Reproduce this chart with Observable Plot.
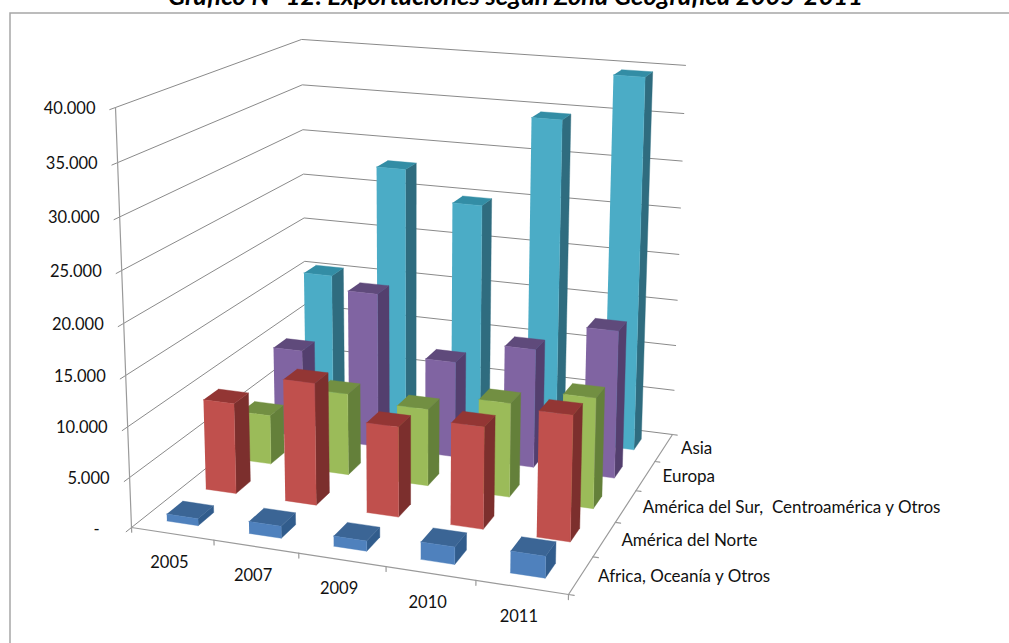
<!DOCTYPE html>
<html>
<head>
<meta charset="utf-8">
<style>html,body{margin:0;padding:0;background:#fff;overflow:hidden}svg{display:block}</style>
<script src="https://cdn.jsdelivr.net/npm/d3@7"></script>
<script src="https://cdn.jsdelivr.net/npm/@observablehq/plot@0.6"></script>
</head>
<body>
<div id="chart"></div>
<script>
const chartTitle = "Gráfico N° 12: Exportaciones según Zona Geográfica 2005-2011";
const years = ["2005", "2007", "2009", "2010", "2011"];
const zones = ["Africa, Oceanía y Otros", "América del Norte", "América del Sur,  Centroamérica y Otros", "Europa", "Asia"];
const africa  = [700, 1200, 1000, 1700, 2100];
const norte   = [9300, 12400, 9100, 10200, 12450];
const sur     = [5200, 8550, 8000, 9700, 11300];
const europa  = [9500, 16600, 10250, 12600, 15500];
const asia    = [15450, 27950, 24800, 34550, 39550];
const series = [africa, norte, sur, europa, asia];
const valueTicks = [0, 5000, 10000, 15000, 20000, 25000, 30000, 35000, 40000];
const valueMax = 40000;

const faceColors = [
  {front: "#4f81bd", side: "#315c8c", top: "#3b6595"},
  {front: "#c0504d", side: "#7c2f2d", top: "#933634"},
  {front: "#9bbb59", side: "#64803a", top: "#728f42"},
  {front: "#8064a2", side: "#533f6e", top: "#5f4a7b"},
  {front: "#4bacc6", side: "#2f6c7f", top: "#338da5"}
];

// Camera of the 3D box: the image of its corners on the page
const W = 1009, H = 643;
const corners = {p0: [131, 527], p1: [568, 594], p2: [672, 434], p3: [306, 388], up0: [115, 107], up2: [685, 61]};
const camera = (() => {
  const {p0, p1, p2, p3, up0, up2} = corners;
  const dx1 = p1[0] - p2[0], dx2 = p3[0] - p2[0], sx = p0[0] - p1[0] + p2[0] - p3[0];
  const dy1 = p1[1] - p2[1], dy2 = p3[1] - p2[1], sy = p0[1] - p1[1] + p2[1] - p3[1];
  const det = dx1 * dy2 - dx2 * dy1;
  const g = (sx * dy2 - dx2 * sy) / det, h = (dx1 * sy - sx * dy1) / det;
  const a = p1[0] - p0[0] + g * p1[0], b = p3[0] - p0[0] + h * p3[0], c = p0[0];
  const d = p1[1] - p0[1] + g * p1[1], e = p3[1] - p0[1] + h * p3[1], f = p0[1];
  const S = g + h + 1;
  const cw = (a + b + up0[0] - up2[0] * S) / (up2[0] - up0[0]);
  const cu = up0[0] * (1 + cw) - c, cv = up0[1] * (1 + cw) - f;
  return {a, b, c, d, e, f, g, h, cu, cv, cw};
})();
function project(x, y, z) {
  const m = camera;
  const w = m.g * x + m.h * y + m.cw * z + 1;
  return [(m.a * x + m.b * y + m.cu * z + m.c) / w, (m.d * x + m.e * y + m.cv * z + m.f) / w];
}
const zOf = v => v / valueMax;
const nx = years.length, ny = zones.length;
const barWidth = 0.383, barDepth = 0.4, barShift = -0.005;

function poly(id, fill, pts) {
  return pts.map(([x, y, z]) => {
    const [u, v] = project(x, y, z);
    return {id, fill, u, v};
  });
}
// Faces of the bars, far rows first
const faces = [];
for (let j = ny - 1; j >= 0; --j) {
  for (let i = 0; i < nx; ++i) {
    const x0 = (i + 0.5 - barWidth / 2) / nx + barShift, x1 = (i + 0.5 + barWidth / 2) / nx + barShift;
    const y0 = (j + 0.5 - barDepth / 2) / ny, y1 = (j + 0.5 + barDepth / 2) / ny;
    const t = zOf(series[j][i]);
    const col = faceColors[j];
    faces.push(...poly(`s${j}-${i}`, col.side, [[x1, y0, 0], [x1, y1, 0], [x1, y1, t], [x1, y0, t]]));
    faces.push(...poly(`t${j}-${i}`, col.top, [[x0, y0, t], [x1, y0, t], [x1, y1, t], [x0, y1, t]]));
    faces.push(...poly(`f${j}-${i}`, col.front, [[x0, y0, 0], [x1, y0, 0], [x1, y0, t], [x0, y0, t]]));
  }
}
const seg = (id, a, b) => poly(id, "none", [a, b]);
const grid = valueTicks.flatMap(v => {
  const z = zOf(v);
  return poly(`g${v}`, "none", [[0, -0.025, z], [0, 1, z], [1, 1, z]]);
});
const axes = [
  ...seg("zaxis", [0, 0, 0], [0, 0, 1]),
  ...seg("xaxis", [0, 0, 0], [1, 0, 0]),
  ...seg("yaxis", [1, 0, 0], [1, 1, 0]),
  ...d3.range(nx + 1).flatMap(i => seg(`xt${i}`, [i / nx, 0, 0], [i / nx, 0, -0.012])),
  ...d3.range(ny + 1).flatMap(j => seg(`yt${j}`, [1, j / ny, 0], [1.012, j / ny, 0]))
];
const at = (x, y, z, label) => { const [u, v] = project(x, y, z); return {u, v, label}; };
const yearLabels = years.map((s, i) => at((i + 0.5) / nx, 0, 0, s));
const zoneLabels = zones.map((s, j) => at(1, (j + 0.5) / ny, 0, s));
const valueLabels = valueTicks.filter(v => v > 0).map(v => at(0, 0, zOf(v), d3.format(",")(v).replace(/,/g, ".")));
const dashLabel = [at(0, 0, 0, "-")];

const font = "Lato";
const chart = Plot.plot({
  width: W, height: H, margin: 0,
  x: {domain: [0, W], range: [0, W], axis: null},
  y: {domain: [0, H], range: [0, H], axis: null},
  style: {background: "#fff", fontFamily: font},
  marks: [
    Plot.rect([{x1: 10, x2: W + 5, y1: 13, y2: H + 5}], {x1: "x1", x2: "x2", y1: "y1", y2: "y2", fill: "none", stroke: "#a6a6a6", strokeWidth: 1.5}),
    Plot.text([chartTitle], {x: () => 515, y: () => -4, text: d => d, fontSize: 25.5, fontWeight: "bold", fontStyle: "italic", fill: "#000", lineAnchor: "middle"}),
    Plot.line(grid, {x: "u", y: "v", z: "id", stroke: "#8a8a8a", strokeWidth: 1, curve: "linear"}),
    Plot.line(axes, {x: "u", y: "v", z: "id", stroke: "#9a9a9a", strokeWidth: 1.2, curve: "linear"}),
    Plot.line(faces, {x: "u", y: "v", z: "id", fill: "fill", stroke: "fill", strokeWidth: 0.4, strokeLinejoin: "round", curve: "linear"}),
    Plot.text(valueLabels, {x: "u", y: "v", text: "label", dx: -20, dy: 1, textAnchor: "end", fontSize: 16.5, fill: "#111"}),
    Plot.text(dashLabel, {x: "u", y: "v", text: "label", dx: -35, dy: 2, textAnchor: "middle", fontSize: 16.5, fill: "#111"}),
    Plot.text(yearLabels, {x: "u", y: "v", text: "label", dx: -3, dy: 29, fontSize: 16.5, fill: "#111"}),
    Plot.text(zoneLabels, {x: "u", y: "v", text: "label", dx: 17, dy: 1, textAnchor: "start", fontSize: 17, fill: "#111"})
  ]
});
document.getElementById("chart").append(chart);
</script>
</body>
</html>
